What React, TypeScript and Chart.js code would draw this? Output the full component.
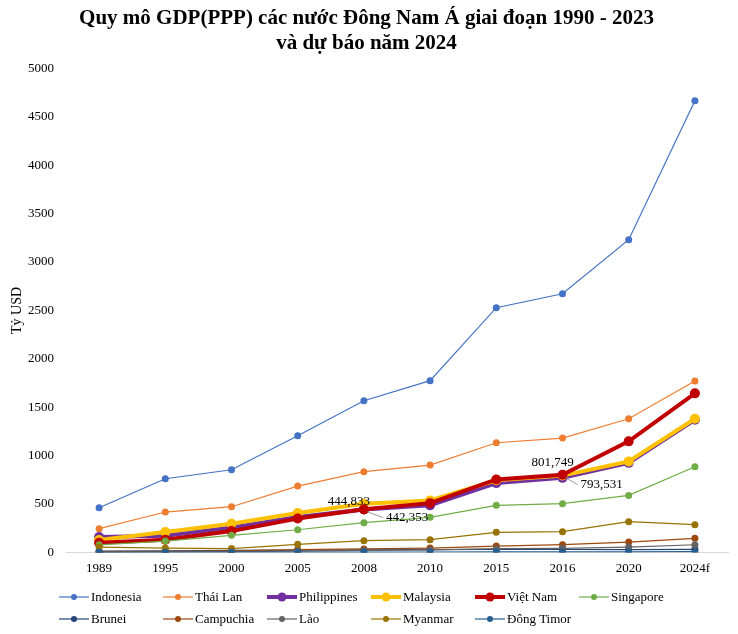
import React, { useEffect, useRef } from "react";
import { Chart, registerables } from "chart.js";

Chart.register(...registerables);

const categories = ["1989", "1995", "2000", "2005", "2008", "2010", "2015", "2016", "2020", "2024f"];
const indonesia = [462, 761, 854, 1206, 1567, 1774, 2528, 2672, 3230, 4666];
const thaiLan = [245, 417, 472, 685, 834, 902, 1133, 1181, 1381, 1770];
const philippines = [160, 172, 258, 365, 442.353, 486, 716, 770, 925, 1370];
const malaysia = [128, 210, 296, 406, 503, 537, 745, 793.531, 940, 1381];
const vietNam = [100, 131, 220, 351, 444.833, 509, 754, 801.749, 1147, 1643];
const singapore = [78, 117, 176, 234, 307, 362, 486, 503, 589, 885];
const brunei = [14, 17, 20, 24, 27, 28, 30, 30, 29, 32];
const campuchia = [7, 10, 16, 28, 36, 45, 65, 80, 107, 145];
const lao = [4, 6, 9, 14, 20, 26, 38, 42, 55, 79];
const myanmar = [55, 45, 40, 83, 121, 131, 207, 214, 317, 286];
const dongTimor = [1, 1.5, 2, 2.5, 3, 4, 5, 5, 6, 8];

const seriesNames = ["Indonesia", "Thái Lan", "Philippines", "Malaysia", "Việt Nam", "Singapore", "Brunei", "Campuchia", "Lào", "Myanmar", "Đông Timor"];
const seriesValues = [indonesia, thaiLan, philippines, malaysia, vietNam, singapore, brunei, campuchia, lao, myanmar, dongTimor];
const seriesColors = ["#4472C4", "#ED7D31", "#7030A0", "#FFC000", "#C00000", "#70AD47", "#264478", "#9E480E", "#636363", "#997300", "#255E91"];
const thickSeries = ["Philippines", "Malaysia", "Việt Nam"];

const yTicks = [0, 500, 1000, 1500, 2000, 2500, 3000, 3500, 4000, 4500, 5000];

const FONT = "'Liberation Serif', 'Times New Roman', serif";

// value labels: [seriesIndex, pointIndex, text, dx, dy, align, leader]
const valueLabels: [number, number, string, number, number, CanvasTextAlign, boolean][] = [
  [4, 4, "444,833", -15, -8, "center", false],
  [2, 4, "442,353", 22, 8, "left", true],
  [4, 7, "801,749", -10, -12, "center", false],
  [3, 7, "793,531", 18, 9, "left", true],
];

const customPlugin = {
  id: "customDraw",
  afterDatasetsDraw(chart: any) {
    const ctx = chart.ctx;
    ctx.save();
    ctx.font = `13px ${FONT}`;
    ctx.fillStyle = "#000";
    ctx.textBaseline = "middle";
    valueLabels.forEach(([si, pi, text, dx, dy, align, leader]) => {
      const el = chart.getDatasetMeta(si).data[pi];
      if (!el) return;
      const x = el.x, y = el.y;
      if (leader) {
        ctx.strokeStyle = "#7f7f7f";
        ctx.lineWidth = 0.8;
        ctx.beginPath();
        ctx.moveTo(x + 3, y + 2);
        ctx.lineTo(x + dx - 3, y + dy);
        ctx.stroke();
      }
      ctx.textAlign = align;
      ctx.fillText(text, x + dx, y + dy);
    });
    ctx.restore();
  },
  afterDraw(chart: any) {
    const ctx = chart.ctx;
    ctx.save();
    ctx.font = `13px ${FONT}`;
    ctx.textBaseline = "middle";
    ctx.textAlign = "left";
    seriesNames.forEach((name, i) => {
      const row = i < 6 ? 0 : 1;
      const col = i < 6 ? i : i - 6;
      const x0 = 59 + col * 104;
      const y = row === 0 ? 597 : 619;
      const thick = thickSeries.includes(name);
      ctx.strokeStyle = seriesColors[i];
      ctx.lineWidth = thick ? 4 : 1.2;
      ctx.beginPath();
      ctx.moveTo(x0, y);
      ctx.lineTo(x0 + 30, y);
      ctx.stroke();
      ctx.fillStyle = seriesColors[i];
      ctx.beginPath();
      ctx.arc(x0 + 15, y, thick ? 4.5 : 3, 0, Math.PI * 2);
      ctx.fill();
      ctx.fillStyle = "#000";
      ctx.fillText(name, x0 + 32, y + 1);
    });
    ctx.restore();
  },
};

export default function App() {
  const canvasRef = useRef<HTMLCanvasElement | null>(null);

  useEffect(() => {
    if (!canvasRef.current) return;
    const n = seriesNames.length;
    const chart = new Chart(canvasRef.current, {
      type: "line",
      data: {
        labels: categories,
        datasets: seriesNames.map((name, i) => {
          const thick = thickSeries.includes(name);
          return {
            label: name,
            data: seriesValues[i],
            borderColor: seriesColors[i],
            backgroundColor: seriesColors[i],
            pointBackgroundColor: seriesColors[i],
            pointBorderColor: seriesColors[i],
            borderWidth: thick ? 4 : 1.2,
            pointRadius: thick ? 5 : 3.5,
            pointBorderWidth: 0,
            pointHoverRadius: thick ? 5 : 3.5,
            tension: 0,
            fill: false,
            order: n - i,
          };
        }),
      },
      options: {
        responsive: false,
        animation: false,
        layout: { padding: { top: 1, left: 5, right: 10, bottom: 50 } },
        plugins: {
          legend: { display: false },
          tooltip: { enabled: false },
          title: {
            display: true,
            text: ["Quy mô GDP(PPP) các nước Đông Nam Á giai đoạn 1990 - 2023", "và dự báo năm 2024"],
            font: { family: FONT, size: 21, weight: "bold", lineHeight: 1.2 },
            color: "#000",
            padding: { top: 5, bottom: 12 },
          },
        },
        scales: {
          x: {
            type: "category",
            offset: true,
            grid: { display: false, drawTicks: false },
            border: { display: true, color: "#D9D9D9", width: 1 },
            ticks: { font: { family: FONT, size: 13 }, color: "#000", padding: 8 },
          },
          y: {
            type: "linear",
            min: yTicks[0],
            max: yTicks[yTicks.length - 1],
            afterBuildTicks: (axis: any) => {
              axis.ticks = yTicks.map((v) => ({ value: v }));
            },
            afterFit: (axis: any) => {
              axis.width = 61;
            },
            grid: { display: false, drawTicks: false },
            border: { display: false },
            ticks: {
              font: { family: FONT, size: 13 },
              color: "#000",
              padding: 12,
              callback: (v: any) => String(v),
            },
            title: {
              display: true,
              text: "Tỷ USD",
              font: { family: FONT, size: 14 },
              color: "#000",
              padding: { top: 4, bottom: 2 },
            },
          },
        },
      },
      plugins: [customPlugin],
    });
    return () => chart.destroy();
  }, []);

  return (
    <div style={{ position: "absolute", left: 0, top: 0, width: 738, height: 634, background: "#fff" }}>
      <canvas ref={canvasRef} width={738} height={634} style={{ display: "block" }} />
    </div>
  );
}
